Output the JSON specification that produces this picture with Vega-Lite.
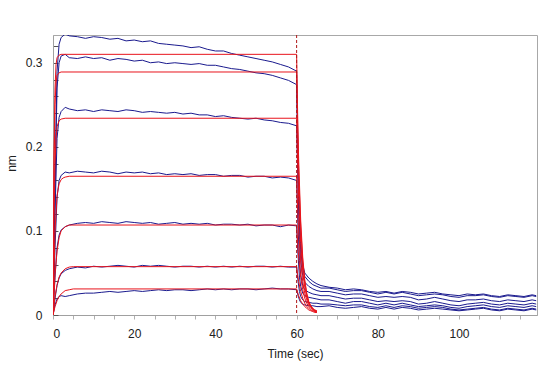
{
"$schema":"https://vega.github.io/schema/vega-lite/v6.json",
"width":484,"height":280,
"autosize":{"type":"none"},
"padding":{"left":53,"top":35,"right":10,"bottom":51},
"background":"white",
"config":{"view":{"stroke":"#a8a8a8"},"axis":{"grid":false,"domainColor":"#a0a0a0","tickColor":"#b0b0b0","labelFont":"Liberation Sans","labelFontSize":12,"labelColor":"#202020","titleFont":"Liberation Sans","titleFontSize":12,"titleFontWeight":"normal","titleColor":"#202020"}},
"datasets":{
"obs":[
{"s":1,"t":0,"v":0},{"s":1,"t":0.5,"v":0.16},{"s":1,"t":1,"v":0.29},{"s":1,"t":1.5,"v":0.322},{"s":1,"t":2,"v":0.33},{"s":1,"t":3,"v":0.334},{"s":1,"t":4,"v":0.332},{"s":1,"t":6,"v":0.331},{"s":1,"t":8,"v":0.329},{"s":1,"t":10,"v":0.331},{"s":1,"t":12,"v":0.33},{"s":1,"t":14,"v":0.328},{"s":1,"t":16,"v":0.329},{"s":1,"t":18,"v":0.326},{"s":1,"t":20,"v":0.327},{"s":1,"t":22,"v":0.325},{"s":1,"t":24,"v":0.326},{"s":1,"t":26,"v":0.323},{"s":1,"t":28,"v":0.322},{"s":1,"t":30,"v":0.321},{"s":1,"t":32,"v":0.32},{"s":1,"t":34,"v":0.318},{"s":1,"t":36,"v":0.319},{"s":1,"t":38,"v":0.316},{"s":1,"t":40,"v":0.314},{"s":1,"t":42,"v":0.314},{"s":1,"t":44,"v":0.311},{"s":1,"t":46,"v":0.309},{"s":1,"t":48,"v":0.307},{"s":1,"t":50,"v":0.305},{"s":1,"t":52,"v":0.303},{"s":1,"t":54,"v":0.301},{"s":1,"t":56,"v":0.298},{"s":1,"t":58,"v":0.295},{"s":1,"t":60,"v":0.29},
{"s":1,"t":60.3,"v":0.2},{"s":1,"t":60.7,"v":0.12},{"s":1,"t":61,"v":0.085},{"s":1,"t":61.5,"v":0.06},{"s":1,"t":62,"v":0.05},{"s":1,"t":63,"v":0.044},{"s":1,"t":64,"v":0.04},{"s":1,"t":65,"v":0.037},{"s":1,"t":66,"v":0.035},{"s":1,"t":68,"v":0.033},{"s":1,"t":70,"v":0.032},{"s":1,"t":72,"v":0.03},{"s":1,"t":74,"v":0.031},{"s":1,"t":76,"v":0.03},{"s":1,"t":78,"v":0.028},{"s":1,"t":80,"v":0.027},{"s":1,"t":82,"v":0.028},{"s":1,"t":84,"v":0.026},{"s":1,"t":86,"v":0.028},{"s":1,"t":88,"v":0.027},{"s":1,"t":90,"v":0.025},{"s":1,"t":92,"v":0.026},{"s":1,"t":94,"v":0.027},{"s":1,"t":96,"v":0.025},{"s":1,"t":98,"v":0.024},{"s":1,"t":100,"v":0.023},{"s":1,"t":102,"v":0.025},{"s":1,"t":104,"v":0.024},{"s":1,"t":106,"v":0.025},{"s":1,"t":108,"v":0.023},{"s":1,"t":110,"v":0.022},{"s":1,"t":112,"v":0.024},{"s":1,"t":114,"v":0.023},{"s":1,"t":116,"v":0.022},{"s":1,"t":118,"v":0.024},{"s":1,"t":119,"v":0.023},
{"s":2,"t":0,"v":0},{"s":2,"t":0.5,"v":0.15},{"s":2,"t":1,"v":0.27},{"s":2,"t":1.5,"v":0.3},{"s":2,"t":2,"v":0.308},{"s":2,"t":3,"v":0.31},{"s":2,"t":4,"v":0.306},{"s":2,"t":6,"v":0.305},{"s":2,"t":8,"v":0.307},{"s":2,"t":10,"v":0.305},{"s":2,"t":12,"v":0.306},{"s":2,"t":14,"v":0.303},{"s":2,"t":16,"v":0.305},{"s":2,"t":18,"v":0.304},{"s":2,"t":20,"v":0.302},{"s":2,"t":22,"v":0.303},{"s":2,"t":24,"v":0.3},{"s":2,"t":26,"v":0.301},{"s":2,"t":28,"v":0.299},{"s":2,"t":30,"v":0.3},{"s":2,"t":32,"v":0.299},{"s":2,"t":34,"v":0.298},{"s":2,"t":36,"v":0.299},{"s":2,"t":38,"v":0.297},{"s":2,"t":40,"v":0.297},{"s":2,"t":42,"v":0.295},{"s":2,"t":44,"v":0.293},{"s":2,"t":46,"v":0.292},{"s":2,"t":48,"v":0.29},{"s":2,"t":50,"v":0.288},{"s":2,"t":52,"v":0.287},{"s":2,"t":54,"v":0.285},{"s":2,"t":56,"v":0.282},{"s":2,"t":58,"v":0.279},{"s":2,"t":60,"v":0.274},
{"s":2,"t":60.3,"v":0.19},{"s":2,"t":60.7,"v":0.11},{"s":2,"t":61,"v":0.078},{"s":2,"t":61.5,"v":0.055},{"s":2,"t":62,"v":0.046},{"s":2,"t":63,"v":0.04},{"s":2,"t":64,"v":0.036},{"s":2,"t":65,"v":0.034},{"s":2,"t":66,"v":0.032},{"s":2,"t":68,"v":0.032},{"s":2,"t":70,"v":0.03},{"s":2,"t":72,"v":0.028},{"s":2,"t":74,"v":0.029},{"s":2,"t":76,"v":0.029},{"s":2,"t":78,"v":0.027},{"s":2,"t":80,"v":0.025},{"s":2,"t":82,"v":0.027},{"s":2,"t":84,"v":0.025},{"s":2,"t":86,"v":0.027},{"s":2,"t":88,"v":0.025},{"s":2,"t":90,"v":0.023},{"s":2,"t":92,"v":0.024},{"s":2,"t":94,"v":0.025},{"s":2,"t":96,"v":0.024},{"s":2,"t":98,"v":0.022},{"s":2,"t":100,"v":0.021},{"s":2,"t":102,"v":0.023},{"s":2,"t":104,"v":0.023},{"s":2,"t":106,"v":0.024},{"s":2,"t":108,"v":0.022},{"s":2,"t":110,"v":0.021},{"s":2,"t":112,"v":0.023},{"s":2,"t":114,"v":0.022},{"s":2,"t":116,"v":0.021},{"s":2,"t":118,"v":0.023},{"s":2,"t":119,"v":0.022},
{"s":3,"t":0,"v":0},{"s":3,"t":0.5,"v":0.12},{"s":3,"t":1,"v":0.21},{"s":3,"t":1.5,"v":0.235},{"s":3,"t":2,"v":0.242},{"s":3,"t":3,"v":0.247},{"s":3,"t":4,"v":0.245},{"s":3,"t":6,"v":0.243},{"s":3,"t":8,"v":0.244},{"s":3,"t":10,"v":0.242},{"s":3,"t":12,"v":0.244},{"s":3,"t":14,"v":0.243},{"s":3,"t":16,"v":0.242},{"s":3,"t":18,"v":0.244},{"s":3,"t":20,"v":0.243},{"s":3,"t":22,"v":0.241},{"s":3,"t":24,"v":0.242},{"s":3,"t":26,"v":0.241},{"s":3,"t":28,"v":0.24},{"s":3,"t":30,"v":0.241},{"s":3,"t":32,"v":0.239},{"s":3,"t":34,"v":0.24},{"s":3,"t":36,"v":0.238},{"s":3,"t":38,"v":0.238},{"s":3,"t":40,"v":0.236},{"s":3,"t":42,"v":0.237},{"s":3,"t":44,"v":0.235},{"s":3,"t":46,"v":0.234},{"s":3,"t":48,"v":0.233},{"s":3,"t":50,"v":0.234},{"s":3,"t":52,"v":0.232},{"s":3,"t":54,"v":0.231},{"s":3,"t":56,"v":0.229},{"s":3,"t":58,"v":0.228},{"s":3,"t":60,"v":0.225},
{"s":3,"t":60.3,"v":0.16},{"s":3,"t":60.7,"v":0.09},{"s":3,"t":61,"v":0.065},{"s":3,"t":61.5,"v":0.047},{"s":3,"t":62,"v":0.039},{"s":3,"t":63,"v":0.034},{"s":3,"t":64,"v":0.031},{"s":3,"t":65,"v":0.029},{"s":3,"t":66,"v":0.028},{"s":3,"t":68,"v":0.028},{"s":3,"t":70,"v":0.026},{"s":3,"t":72,"v":0.024},{"s":3,"t":74,"v":0.025},{"s":3,"t":76,"v":0.025},{"s":3,"t":78,"v":0.023},{"s":3,"t":80,"v":0.021},{"s":3,"t":82,"v":0.022},{"s":3,"t":84,"v":0.021},{"s":3,"t":86,"v":0.022},{"s":3,"t":88,"v":0.021},{"s":3,"t":90,"v":0.018},{"s":3,"t":92,"v":0.019},{"s":3,"t":94,"v":0.021},{"s":3,"t":96,"v":0.019},{"s":3,"t":98,"v":0.017},{"s":3,"t":100,"v":0.016},{"s":3,"t":102,"v":0.018},{"s":3,"t":104,"v":0.018},{"s":3,"t":106,"v":0.019},{"s":3,"t":108,"v":0.017},{"s":3,"t":110,"v":0.016},{"s":3,"t":112,"v":0.018},{"s":3,"t":114,"v":0.017},{"s":3,"t":116,"v":0.016},{"s":3,"t":118,"v":0.018},{"s":3,"t":119,"v":0.017},
{"s":4,"t":0,"v":0},{"s":4,"t":0.5,"v":0.08},{"s":4,"t":1,"v":0.14},{"s":4,"t":1.5,"v":0.16},{"s":4,"t":2,"v":0.166},{"s":4,"t":3,"v":0.17},{"s":4,"t":4,"v":0.169},{"s":4,"t":6,"v":0.171},{"s":4,"t":8,"v":0.17},{"s":4,"t":10,"v":0.169},{"s":4,"t":12,"v":0.171},{"s":4,"t":14,"v":0.17},{"s":4,"t":16,"v":0.168},{"s":4,"t":18,"v":0.17},{"s":4,"t":20,"v":0.169},{"s":4,"t":22,"v":0.17},{"s":4,"t":24,"v":0.168},{"s":4,"t":26,"v":0.169},{"s":4,"t":28,"v":0.167},{"s":4,"t":30,"v":0.168},{"s":4,"t":32,"v":0.167},{"s":4,"t":34,"v":0.168},{"s":4,"t":36,"v":0.166},{"s":4,"t":38,"v":0.167},{"s":4,"t":40,"v":0.167},{"s":4,"t":42,"v":0.165},{"s":4,"t":44,"v":0.166},{"s":4,"t":46,"v":0.166},{"s":4,"t":48,"v":0.164},{"s":4,"t":50,"v":0.165},{"s":4,"t":52,"v":0.165},{"s":4,"t":54,"v":0.163},{"s":4,"t":56,"v":0.164},{"s":4,"t":58,"v":0.163},{"s":4,"t":60,"v":0.16},
{"s":4,"t":60.3,"v":0.11},{"s":4,"t":60.7,"v":0.065},{"s":4,"t":61,"v":0.048},{"s":4,"t":61.5,"v":0.035},{"s":4,"t":62,"v":0.03},{"s":4,"t":63,"v":0.027},{"s":4,"t":64,"v":0.025},{"s":4,"t":65,"v":0.024},{"s":4,"t":66,"v":0.023},{"s":4,"t":68,"v":0.023},{"s":4,"t":70,"v":0.021},{"s":4,"t":72,"v":0.019},{"s":4,"t":74,"v":0.02},{"s":4,"t":76,"v":0.02},{"s":4,"t":78,"v":0.018},{"s":4,"t":80,"v":0.016},{"s":4,"t":82,"v":0.017},{"s":4,"t":84,"v":0.016},{"s":4,"t":86,"v":0.017},{"s":4,"t":88,"v":0.016},{"s":4,"t":90,"v":0.013},{"s":4,"t":92,"v":0.014},{"s":4,"t":94,"v":0.016},{"s":4,"t":96,"v":0.014},{"s":4,"t":98,"v":0.012},{"s":4,"t":100,"v":0.011},{"s":4,"t":102,"v":0.013},{"s":4,"t":104,"v":0.014},{"s":4,"t":106,"v":0.015},{"s":4,"t":108,"v":0.013},{"s":4,"t":110,"v":0.012},{"s":4,"t":112,"v":0.014},{"s":4,"t":114,"v":0.013},{"s":4,"t":116,"v":0.012},{"s":4,"t":118,"v":0.014},{"s":4,"t":119,"v":0.013},
{"s":5,"t":0,"v":0},{"s":5,"t":0.5,"v":0.045},{"s":5,"t":1,"v":0.08},{"s":5,"t":1.5,"v":0.095},{"s":5,"t":2,"v":0.101},{"s":5,"t":3,"v":0.105},{"s":5,"t":4,"v":0.107},{"s":5,"t":6,"v":0.109},{"s":5,"t":8,"v":0.11},{"s":5,"t":10,"v":0.109},{"s":5,"t":12,"v":0.111},{"s":5,"t":14,"v":0.11},{"s":5,"t":16,"v":0.109},{"s":5,"t":18,"v":0.111},{"s":5,"t":20,"v":0.11},{"s":5,"t":22,"v":0.109},{"s":5,"t":24,"v":0.11},{"s":5,"t":26,"v":0.108},{"s":5,"t":28,"v":0.109},{"s":5,"t":30,"v":0.11},{"s":5,"t":32,"v":0.108},{"s":5,"t":34,"v":0.109},{"s":5,"t":36,"v":0.108},{"s":5,"t":38,"v":0.109},{"s":5,"t":40,"v":0.107},{"s":5,"t":42,"v":0.108},{"s":5,"t":44,"v":0.108},{"s":5,"t":46,"v":0.107},{"s":5,"t":48,"v":0.108},{"s":5,"t":50,"v":0.106},{"s":5,"t":52,"v":0.107},{"s":5,"t":54,"v":0.107},{"s":5,"t":56,"v":0.105},{"s":5,"t":58,"v":0.107},{"s":5,"t":60,"v":0.106},
{"s":5,"t":60.3,"v":0.075},{"s":5,"t":60.7,"v":0.045},{"s":5,"t":61,"v":0.034},{"s":5,"t":61.5,"v":0.026},{"s":5,"t":62,"v":0.023},{"s":5,"t":63,"v":0.021},{"s":5,"t":64,"v":0.02},{"s":5,"t":65,"v":0.019},{"s":5,"t":66,"v":0.018},{"s":5,"t":68,"v":0.018},{"s":5,"t":70,"v":0.016},{"s":5,"t":72,"v":0.014},{"s":5,"t":74,"v":0.016},{"s":5,"t":76,"v":0.016},{"s":5,"t":78,"v":0.014},{"s":5,"t":80,"v":0.012},{"s":5,"t":82,"v":0.014},{"s":5,"t":84,"v":0.012},{"s":5,"t":86,"v":0.014},{"s":5,"t":88,"v":0.012},{"s":5,"t":90,"v":0.01},{"s":5,"t":92,"v":0.011},{"s":5,"t":94,"v":0.012},{"s":5,"t":96,"v":0.011},{"s":5,"t":98,"v":0.009},{"s":5,"t":100,"v":0.008},{"s":5,"t":102,"v":0.01},{"s":5,"t":104,"v":0.011},{"s":5,"t":106,"v":0.012},{"s":5,"t":108,"v":0.01},{"s":5,"t":110,"v":0.009},{"s":5,"t":112,"v":0.011},{"s":5,"t":114,"v":0.01},{"s":5,"t":116,"v":0.009},{"s":5,"t":118,"v":0.011},{"s":5,"t":119,"v":0.01},
{"s":6,"t":0,"v":0},{"s":6,"t":0.5,"v":0.02},{"s":6,"t":1,"v":0.035},{"s":6,"t":1.5,"v":0.044},{"s":6,"t":2,"v":0.049},{"s":6,"t":3,"v":0.053},{"s":6,"t":4,"v":0.055},{"s":6,"t":6,"v":0.057},{"s":6,"t":8,"v":0.056},{"s":6,"t":10,"v":0.058},{"s":6,"t":12,"v":0.057},{"s":6,"t":14,"v":0.058},{"s":6,"t":16,"v":0.059},{"s":6,"t":18,"v":0.058},{"s":6,"t":20,"v":0.057},{"s":6,"t":22,"v":0.059},{"s":6,"t":24,"v":0.058},{"s":6,"t":26,"v":0.059},{"s":6,"t":28,"v":0.058},{"s":6,"t":30,"v":0.057},{"s":6,"t":32,"v":0.058},{"s":6,"t":34,"v":0.058},{"s":6,"t":36,"v":0.057},{"s":6,"t":38,"v":0.058},{"s":6,"t":40,"v":0.057},{"s":6,"t":42,"v":0.058},{"s":6,"t":44,"v":0.057},{"s":6,"t":46,"v":0.058},{"s":6,"t":48,"v":0.057},{"s":6,"t":50,"v":0.058},{"s":6,"t":52,"v":0.058},{"s":6,"t":54,"v":0.057},{"s":6,"t":56,"v":0.058},{"s":6,"t":58,"v":0.057},{"s":6,"t":60,"v":0.057},
{"s":6,"t":60.3,"v":0.042},{"s":6,"t":60.7,"v":0.028},{"s":6,"t":61,"v":0.022},{"s":6,"t":61.5,"v":0.018},{"s":6,"t":62,"v":0.016},{"s":6,"t":63,"v":0.015},{"s":6,"t":64,"v":0.014},{"s":6,"t":65,"v":0.014},{"s":6,"t":66,"v":0.013},{"s":6,"t":68,"v":0.013},{"s":6,"t":70,"v":0.012},{"s":6,"t":72,"v":0.011},{"s":6,"t":74,"v":0.012},{"s":6,"t":76,"v":0.012},{"s":6,"t":78,"v":0.01},{"s":6,"t":80,"v":0.009},{"s":6,"t":82,"v":0.011},{"s":6,"t":84,"v":0.009},{"s":6,"t":86,"v":0.011},{"s":6,"t":88,"v":0.01},{"s":6,"t":90,"v":0.008},{"s":6,"t":92,"v":0.009},{"s":6,"t":94,"v":0.01},{"s":6,"t":96,"v":0.009},{"s":6,"t":98,"v":0.007},{"s":6,"t":100,"v":0.006},{"s":6,"t":102,"v":0.007},{"s":6,"t":104,"v":0.008},{"s":6,"t":106,"v":0.009},{"s":6,"t":108,"v":0.007},{"s":6,"t":110,"v":0.006},{"s":6,"t":112,"v":0.008},{"s":6,"t":114,"v":0.007},{"s":6,"t":116,"v":0.006},{"s":6,"t":118,"v":0.008},{"s":6,"t":119,"v":0.007},
{"s":7,"t":0,"v":0},{"s":7,"t":0.5,"v":0.012},{"s":7,"t":1,"v":0.019},{"s":7,"t":1.5,"v":0.022},{"s":7,"t":2,"v":0.023},{"s":7,"t":3,"v":0.022},{"s":7,"t":4,"v":0.023},{"s":7,"t":6,"v":0.025},{"s":7,"t":8,"v":0.026},{"s":7,"t":10,"v":0.026},{"s":7,"t":12,"v":0.027},{"s":7,"t":14,"v":0.028},{"s":7,"t":16,"v":0.027},{"s":7,"t":18,"v":0.028},{"s":7,"t":20,"v":0.029},{"s":7,"t":22,"v":0.028},{"s":7,"t":24,"v":0.029},{"s":7,"t":26,"v":0.03},{"s":7,"t":28,"v":0.029},{"s":7,"t":30,"v":0.03},{"s":7,"t":32,"v":0.03},{"s":7,"t":34,"v":0.029},{"s":7,"t":36,"v":0.03},{"s":7,"t":38,"v":0.031},{"s":7,"t":40,"v":0.03},{"s":7,"t":42,"v":0.031},{"s":7,"t":44,"v":0.03},{"s":7,"t":46,"v":0.031},{"s":7,"t":48,"v":0.031},{"s":7,"t":50,"v":0.03},{"s":7,"t":52,"v":0.031},{"s":7,"t":54,"v":0.032},{"s":7,"t":56,"v":0.031},{"s":7,"t":58,"v":0.031},{"s":7,"t":60,"v":0.03},
{"s":7,"t":60.3,"v":0.024},{"s":7,"t":60.7,"v":0.018},{"s":7,"t":61,"v":0.015},{"s":7,"t":61.5,"v":0.013},{"s":7,"t":62,"v":0.012},{"s":7,"t":63,"v":0.011},{"s":7,"t":64,"v":0.011},{"s":7,"t":65,"v":0.01},{"s":7,"t":66,"v":0.01},{"s":7,"t":68,"v":0.011},{"s":7,"t":70,"v":0.009},{"s":7,"t":72,"v":0.008},{"s":7,"t":74,"v":0.009},{"s":7,"t":76,"v":0.01},{"s":7,"t":78,"v":0.008},{"s":7,"t":80,"v":0.007},{"s":7,"t":82,"v":0.009},{"s":7,"t":84,"v":0.007},{"s":7,"t":86,"v":0.009},{"s":7,"t":88,"v":0.008},{"s":7,"t":90,"v":0.006},{"s":7,"t":92,"v":0.007},{"s":7,"t":94,"v":0.008},{"s":7,"t":96,"v":0.007},{"s":7,"t":98,"v":0.006},{"s":7,"t":100,"v":0.005},{"s":7,"t":102,"v":0.006},{"s":7,"t":104,"v":0.007},{"s":7,"t":106,"v":0.008},{"s":7,"t":108,"v":0.006},{"s":7,"t":110,"v":0.005},{"s":7,"t":112,"v":0.007},{"s":7,"t":114,"v":0.006},{"s":7,"t":116,"v":0.005},{"s":7,"t":118,"v":0.007},{"s":7,"t":119,"v":0.006}
],
"fit":[
{"s":1,"t":0,"v":0},{"s":1,"t":0.25,"v":0.19},{"s":1,"t":0.5,"v":0.27},{"s":1,"t":0.75,"v":0.298},{"s":1,"t":1,"v":0.306},{"s":1,"t":1.5,"v":0.309},{"s":1,"t":2,"v":0.31},{"s":1,"t":60,"v":0.31},{"s":1,"t":60.25,"v":0.24},{"s":1,"t":60.5,"v":0.185},{"s":1,"t":61,"v":0.113},{"s":1,"t":61.5,"v":0.069},{"s":1,"t":62,"v":0.042},{"s":1,"t":62.5,"v":0.026},{"s":1,"t":63,"v":0.016},{"s":1,"t":63.5,"v":0.011},{"s":1,"t":64,"v":0.008},{"s":1,"t":64.5,"v":0.006},{"s":1,"t":65,"v":0.005},
{"s":2,"t":0,"v":0},{"s":2,"t":0.25,"v":0.175},{"s":2,"t":0.5,"v":0.25},{"s":2,"t":0.75,"v":0.277},{"s":2,"t":1,"v":0.285},{"s":2,"t":1.5,"v":0.288},{"s":2,"t":2,"v":0.289},{"s":2,"t":60,"v":0.289},{"s":2,"t":60.25,"v":0.225},{"s":2,"t":60.5,"v":0.172},{"s":2,"t":61,"v":0.105},{"s":2,"t":61.5,"v":0.064},{"s":2,"t":62,"v":0.039},{"s":2,"t":62.5,"v":0.024},{"s":2,"t":63,"v":0.015},{"s":2,"t":63.5,"v":0.01},{"s":2,"t":64,"v":0.007},{"s":2,"t":64.5,"v":0.005},{"s":2,"t":65,"v":0.004},
{"s":3,"t":0,"v":0},{"s":3,"t":0.25,"v":0.12},{"s":3,"t":0.5,"v":0.18},{"s":3,"t":0.75,"v":0.21},{"s":3,"t":1,"v":0.224},{"s":3,"t":1.5,"v":0.231},{"s":3,"t":2,"v":0.233},{"s":3,"t":3,"v":0.234},{"s":3,"t":60,"v":0.234},{"s":3,"t":60.25,"v":0.18},{"s":3,"t":60.5,"v":0.14},{"s":3,"t":61,"v":0.086},{"s":3,"t":61.5,"v":0.053},{"s":3,"t":62,"v":0.033},{"s":3,"t":62.5,"v":0.021},{"s":3,"t":63,"v":0.014},{"s":3,"t":63.5,"v":0.01},{"s":3,"t":64,"v":0.007},{"s":3,"t":64.5,"v":0.005},{"s":3,"t":65,"v":0.004},
{"s":4,"t":0,"v":0},{"s":4,"t":0.5,"v":0.1},{"s":4,"t":1,"v":0.142},{"s":4,"t":1.5,"v":0.156},{"s":4,"t":2,"v":0.161},{"s":4,"t":2.5,"v":0.163},{"s":4,"t":3,"v":0.164},{"s":4,"t":4,"v":0.165},{"s":4,"t":60,"v":0.165},{"s":4,"t":60.25,"v":0.128},{"s":4,"t":60.5,"v":0.1},{"s":4,"t":61,"v":0.063},{"s":4,"t":61.5,"v":0.04},{"s":4,"t":62,"v":0.026},{"s":4,"t":62.5,"v":0.018},{"s":4,"t":63,"v":0.012},{"s":4,"t":63.5,"v":0.009},{"s":4,"t":64,"v":0.007},{"s":4,"t":64.5,"v":0.005},{"s":4,"t":65,"v":0.004},
{"s":5,"t":0,"v":0},{"s":5,"t":0.5,"v":0.048},{"s":5,"t":1,"v":0.076},{"s":5,"t":1.5,"v":0.092},{"s":5,"t":2,"v":0.1},{"s":5,"t":3,"v":0.105},{"s":5,"t":4,"v":0.107},{"s":5,"t":60,"v":0.107},{"s":5,"t":60.25,"v":0.086},{"s":5,"t":60.5,"v":0.069},{"s":5,"t":61,"v":0.045},{"s":5,"t":61.5,"v":0.03},{"s":5,"t":62,"v":0.02},{"s":5,"t":62.5,"v":0.014},{"s":5,"t":63,"v":0.01},{"s":5,"t":63.5,"v":0.008},{"s":5,"t":64,"v":0.006},{"s":5,"t":64.5,"v":0.005},{"s":5,"t":65,"v":0.004},
{"s":6,"t":0,"v":0},{"s":6,"t":0.5,"v":0.022},{"s":6,"t":1,"v":0.036},{"s":6,"t":1.5,"v":0.045},{"s":6,"t":2,"v":0.05},{"s":6,"t":3,"v":0.055},{"s":6,"t":4,"v":0.057},{"s":6,"t":5,"v":0.0575},{"s":6,"t":60,"v":0.0575},{"s":6,"t":60.25,"v":0.048},{"s":6,"t":60.5,"v":0.04},{"s":6,"t":61,"v":0.028},{"s":6,"t":61.5,"v":0.02},{"s":6,"t":62,"v":0.014},{"s":6,"t":62.5,"v":0.01},{"s":6,"t":63,"v":0.008},{"s":6,"t":63.5,"v":0.006},{"s":6,"t":64,"v":0.005},{"s":6,"t":64.5,"v":0.004},{"s":6,"t":65,"v":0.003},
{"s":7,"t":0,"v":0},{"s":7,"t":0.5,"v":0.01},{"s":7,"t":1,"v":0.017},{"s":7,"t":1.5,"v":0.022},{"s":7,"t":2,"v":0.025},{"s":7,"t":3,"v":0.029},{"s":7,"t":4,"v":0.03},{"s":7,"t":5,"v":0.031},{"s":7,"t":60,"v":0.031},{"s":7,"t":60.25,"v":0.027},{"s":7,"t":60.5,"v":0.023},{"s":7,"t":61,"v":0.017},{"s":7,"t":61.5,"v":0.013},{"s":7,"t":62,"v":0.01},{"s":7,"t":62.5,"v":0.008},{"s":7,"t":63,"v":0.006},{"s":7,"t":63.5,"v":0.005},{"s":7,"t":64,"v":0.004},{"s":7,"t":64.5,"v":0.003},{"s":7,"t":65,"v":0.003}
],
"marker":[{"t":60}]
},
"encoding":{
"x":{"field":"t","type":"quantitative","scale":{"domain":[0,119.2],"nice":false,"zero":false},
"axis":{"title":"Time (sec)","values":[0,5,10,15,20,25,30,35,40,45,50,55,60,65,70,75,80,85,90,95,100,105,110,115],"labelExpr":"datum.value % 20 == 0 ? datum.label : ''","tickSize":4,"labelPadding":9,"titleY":38,"titleBaseline":"middle"}},
"y":{"field":"v","type":"quantitative","scale":{"domain":[0,0.333],"nice":false},
"axis":{"title":"nm","values":[0,0.02,0.04,0.06,0.08,0.1,0.12,0.14,0.16,0.18,0.2,0.22,0.24,0.26,0.28,0.3,0.32],"labelExpr":"datum.value == 0 ? '0' : (abs(datum.value*10 - round(datum.value*10)) < 0.001 ? format(datum.value, '.1f') : '')","tickSize":-5,"tickColor":"#555555","labelPadding":16,"titleX":-42,"titleY":128,"titleBaseline":"middle","titleAlign":"center"}}
},
"layer":[
{"data":{"name":"obs"},"mark":{"type":"line","color":"#1a1a8e","strokeWidth":1,"clip":true},"encoding":{"detail":{"field":"s","type":"nominal"}}},
{"data":{"name":"fit"},"mark":{"type":"line","color":"#e8141c","strokeWidth":1,"clip":true},"encoding":{"detail":{"field":"s","type":"nominal"}}},
{"data":{"name":"marker"},"mark":{"type":"rule","color":"#b01818","strokeWidth":1,"strokeDash":[3,2]},"encoding":{"x":{"field":"t","type":"quantitative"},"y":{"value":0},"y2":{"value":280}}}
]
}
